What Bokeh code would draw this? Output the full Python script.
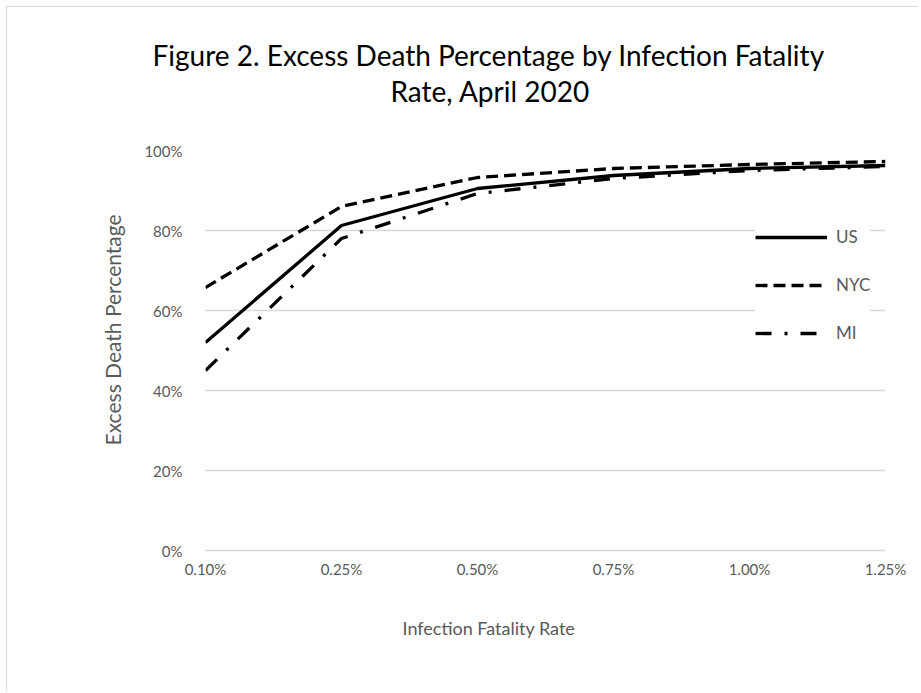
from bokeh.plotting import figure
from bokeh.models import (Title, Legend, LegendItem, FixedTicker, NumeralTickFormatter,
                          Range1d, ColumnDataSource)
from bokeh.embed import file_html
from bokeh.resources import INLINE

# ---- data ----
categories = ["0.10%", "0.25%", "0.50%", "0.75%", "1.00%", "1.25%"]
us = [0.52, 0.8125, 0.905, 0.9375, 0.955, 0.9625]
nyc = [0.6575, 0.86, 0.9325, 0.955, 0.965, 0.9725]
mi = [0.45, 0.78, 0.8925, 0.93, 0.95, 0.96]
y_ticks = [0, 0.2, 0.4, 0.6, 0.8, 1.0]
title_line1 = "Figure 2.  Excess Death Percentage by Infection Fatality"
title_line2 = "Rate, April 2020"
x_title = "Infection Fatality Rate"
y_title = "Excess Death Percentage"

FONT = "Lato"
GREY = "#595959"
GRID = "#d9d9d9"

idx = list(range(len(categories)))
src = ColumnDataSource(dict(x=idx, cat=categories, us=us, nyc=nyc, mi=mi))

p = figure(width=912, height=685, output_backend="svg", toolbar_location=None,
           x_range=Range1d(0, len(categories) - 1), y_range=Range1d(0, 1),
           min_border_left=198, min_border_right=34, min_border_top=143,
           min_border_bottom=142, title=None,
           styles={"border-left": "1px solid #d9d9d9", "border-top": "1px solid #d9d9d9",
                   "margin-left": "6px", "margin-top": "6px"})

p.outline_line_color = None
p.xgrid.visible = False
p.ygrid.grid_line_color = GRID
p.ygrid.grid_line_width = 1.5
p.ygrid.ticker = FixedTicker(ticks=y_ticks)

# y axis
p.yaxis.ticker = FixedTicker(ticks=y_ticks)
p.yaxis.formatter = NumeralTickFormatter(format="0%")
p.yaxis.axis_line_color = None
p.yaxis.major_tick_line_color = None
p.yaxis.minor_tick_line_color = None
p.yaxis.major_label_text_font = FONT
p.yaxis.major_label_text_font_size = "15px"
p.yaxis.major_label_text_color = GREY
p.yaxis.major_label_standoff = 17

# x axis
p.xaxis.ticker = FixedTicker(ticks=idx)
p.xaxis.major_label_overrides = {i: c for i, c in zip(idx, categories)}
p.xaxis.axis_line_color = GRID
p.xaxis.axis_line_width = 1.5
p.xaxis.major_tick_line_color = None
p.xaxis.minor_tick_line_color = None
p.xaxis.major_label_text_font = FONT
p.xaxis.major_label_text_font_size = "15px"
p.xaxis.major_label_text_color = GREY
p.xaxis.major_label_standoff = 3

# series
r_us = p.line("x", "us", source=src, line_color="black", line_width=3.3, line_join="round")
r_nyc = p.line("x", "nyc", source=src, line_color="black", line_width=3.3, line_join="round",
               line_dash="12 6")
r_mi = p.line("x", "mi", source=src, line_color="black", line_width=3.3, line_join="round",
              line_dash="16 13 3 13")

legend = Legend(items=[LegendItem(label="US", renderers=[r_us]),
                       LegendItem(label="NYC", renderers=[r_nyc]),
                       LegendItem(label="MI", renderers=[r_mi])],
                location=(550, 207), glyph_width=72, glyph_height=20, label_height=20,
                label_standoff=9, spacing=27, padding=5, margin=0,
                border_line_color=None, background_fill_color="white", background_fill_alpha=1,
                label_text_font=FONT, label_text_font_size="17px", label_text_color=GREY)
p.add_layout(legend, "center")

# titles (innermost first)
p.add_layout(Title(text=" ", text_font_size="8px", standoff=32), "above")
p.add_layout(Title(text=title_line2, align="left", offset=185, text_font=FONT,
                   text_font_size="28px", text_font_style="normal", text_color="black",
                   standoff=0), "above")
p.add_layout(Title(text=title_line1, align="left", offset=-53, text_font=FONT,
                   text_font_size="28px", text_font_style="normal", text_color="black",
                   standoff=0), "above")
p.add_layout(Title(text=x_title, align="left", offset=197, text_font=FONT,
                   text_font_size="18px", text_font_style="normal", text_color=GREY,
                   standoff=68), "below")
p.add_layout(Title(text=y_title, align="left", offset=105, text_font=FONT,
                   text_font_size="21px", text_font_style="normal", text_color=GREY,
                   standoff=34), "left")

open("out.html", "w").write(file_html(p, INLINE))
